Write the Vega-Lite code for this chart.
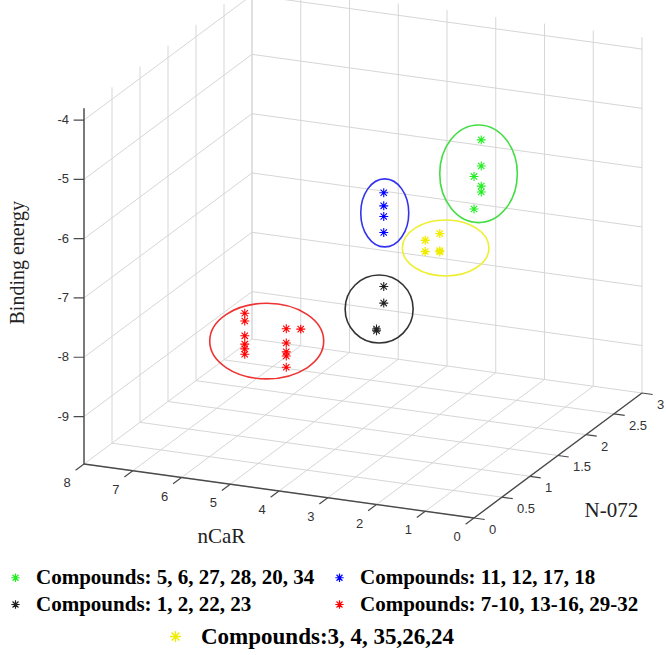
{
  "$schema": "https://vega.github.io/schema/vega-lite/v6.json",
  "width": 666,
  "height": 655,
  "padding": 0,
  "autosize": {"type": "none"},
  "background": "white",
  "config": {"view": {"stroke": null}},
  "datasets": {
    "pts": [
      {"group": "Compounds: 5, 6, 27, 28, 20, 34", "nCaR": 1, "N072": 1, "energy": -4.24},
      {"group": "Compounds: 5, 6, 27, 28, 20, 34", "nCaR": 1, "N072": 1, "energy": -4.68},
      {"group": "Compounds: 5, 6, 27, 28, 20, 34", "nCaR": 1, "N072": 1, "energy": -5.02},
      {"group": "Compounds: 5, 6, 27, 28, 20, 34", "nCaR": 1, "N072": 1, "energy": -5.12},
      {"group": "Compounds: 5, 6, 27, 28, 20, 34", "nCaR": 0, "N072": 0, "energy": -4.04},
      {"group": "Compounds: 5, 6, 27, 28, 20, 34", "nCaR": 0, "N072": 0, "energy": -4.59},
      {"group": "Compounds: 11, 12, 17, 18", "nCaR": 3, "N072": 1, "energy": -5.36},
      {"group": "Compounds: 11, 12, 17, 18", "nCaR": 3, "N072": 1, "energy": -5.58},
      {"group": "Compounds: 11, 12, 17, 18", "nCaR": 3, "N072": 1, "energy": -5.76},
      {"group": "Compounds: 11, 12, 17, 18", "nCaR": 3, "N072": 1, "energy": -6.03},
      {"group": "Compounds: 1, 2, 22, 23", "nCaR": 3, "N072": 1, "energy": -6.94},
      {"group": "Compounds: 1, 2, 22, 23", "nCaR": 3, "N072": 1, "energy": -7.22},
      {"group": "Compounds: 1, 2, 22, 23", "nCaR": 2, "N072": 0, "energy": -6.84},
      {"group": "Compounds: 1, 2, 22, 23", "nCaR": 2, "N072": 0, "energy": -6.87},
      {"group": "Compounds: 7-10, 13-16, 29-32", "nCaR": 7, "N072": 2, "energy": -8.55},
      {"group": "Compounds: 7-10, 13-16, 29-32", "nCaR": 7, "N072": 2, "energy": -8.68},
      {"group": "Compounds: 7-10, 13-16, 29-32", "nCaR": 7, "N072": 2, "energy": -8.93},
      {"group": "Compounds: 7-10, 13-16, 29-32", "nCaR": 7, "N072": 2, "energy": -9.07},
      {"group": "Compounds: 7-10, 13-16, 29-32", "nCaR": 7, "N072": 2, "energy": -9.15},
      {"group": "Compounds: 7-10, 13-16, 29-32", "nCaR": 7, "N072": 2, "energy": -9.24},
      {"group": "Compounds: 7-10, 13-16, 29-32", "nCaR": 5, "N072": 1, "energy": -7.88},
      {"group": "Compounds: 7-10, 13-16, 29-32", "nCaR": 5, "N072": 1, "energy": -8.12},
      {"group": "Compounds: 7-10, 13-16, 29-32", "nCaR": 5, "N072": 1, "energy": -8.27},
      {"group": "Compounds: 7-10, 13-16, 29-32", "nCaR": 5, "N072": 1, "energy": -8.34},
      {"group": "Compounds: 7-10, 13-16, 29-32", "nCaR": 5, "N072": 1, "energy": -8.53},
      {"group": "Compounds: 7-10, 13-16, 29-32", "nCaR": 7, "N072": 3, "energy": -9.52},
      {"group": "Compounds:3, 4, 35,26,24", "nCaR": 1, "N072": 0, "energy": -5.23},
      {"group": "Compounds:3, 4, 35,26,24", "nCaR": 1, "N072": 0, "energy": -5.42},
      {"group": "Compounds:3, 4, 35,26,24", "nCaR": 3, "N072": 2, "energy": -6.75},
      {"group": "Compounds:3, 4, 35,26,24", "nCaR": 3, "N072": 2, "energy": -7.04},
      {"group": "Compounds:3, 4, 35,26,24", "nCaR": 3, "N072": 2, "energy": -7.06}
    ],
    "nt": [{"v": 0}, {"v": 1}, {"v": 2}, {"v": 3}, {"v": 4}, {"v": 5}, {"v": 6}, {"v": 7}, {"v": 8}],
    "mt": [{"v": 0}, {"v": 0.5}, {"v": 1}, {"v": 1.5}, {"v": 2}, {"v": 2.5}, {"v": 3}],
    "et": [{"v": -9}, {"v": -8}, {"v": -7}, {"v": -6}, {"v": -5}, {"v": -4}],
    "axes": [
      {"n1": 0, "m1": 0, "e1": -9.8, "n2": 8, "m2": 0, "e2": -9.8},
      {"n1": 0, "m1": 0, "e1": -9.8, "n2": 0, "m2": 3, "e2": -9.8},
      {"n1": 8, "m1": 0, "e1": -9.8, "n2": 8, "m2": 0, "e2": -3.8}
    ]
  },
  "encoding": {
    "x": {"field": "x1", "type": "quantitative", "scale": {"domain": [-474, 192], "nice": false, "zero": false}, "axis": null},
    "y": {"field": "y1", "type": "quantitative", "scale": {"domain": [-137, 518], "nice": false, "zero": false}, "axis": null}
  },
  "layer": [
    {
      "data": {"name": "nt"},
      "transform": [
        {"calculate": "datum.v", "as": "n1"}, {"calculate": "0", "as": "m1"}, {"calculate": "-9.8", "as": "e1"},
        {"calculate": "datum.v", "as": "n2"}, {"calculate": "3", "as": "m2"}, {"calculate": "-9.8", "as": "e2"},
        {"calculate": "-48.75*datum.n1+56*datum.m1", "as": "x1"},
        {"calculate": "6.75*datum.n1+41.67*datum.m1+59.3*(datum.e1+9.8)", "as": "y1"},
        {"calculate": "-48.75*datum.n2+56*datum.m2", "as": "x2"},
        {"calculate": "6.75*datum.n2+41.67*datum.m2+59.3*(datum.e2+9.8)", "as": "y2"}
      ],
      "mark": {"type": "rule", "color": "#d6d6d6", "strokeWidth": 1},
      "encoding": {"x2": {"field": "x2"}, "y2": {"field": "y2"}}
    },
    {
      "data": {"name": "nt"},
      "transform": [
        {"calculate": "datum.v", "as": "n1"}, {"calculate": "3", "as": "m1"}, {"calculate": "-9.8", "as": "e1"},
        {"calculate": "datum.v", "as": "n2"}, {"calculate": "3", "as": "m2"}, {"calculate": "-3.8", "as": "e2"},
        {"calculate": "-48.75*datum.n1+56*datum.m1", "as": "x1"},
        {"calculate": "6.75*datum.n1+41.67*datum.m1+59.3*(datum.e1+9.8)", "as": "y1"},
        {"calculate": "-48.75*datum.n2+56*datum.m2", "as": "x2"},
        {"calculate": "6.75*datum.n2+41.67*datum.m2+59.3*(datum.e2+9.8)", "as": "y2"}
      ],
      "mark": {"type": "rule", "color": "#d6d6d6", "strokeWidth": 1},
      "encoding": {"x2": {"field": "x2"}, "y2": {"field": "y2"}}
    },
    {
      "data": {"name": "mt"},
      "transform": [
        {"calculate": "0", "as": "n1"}, {"calculate": "datum.v", "as": "m1"}, {"calculate": "-9.8", "as": "e1"},
        {"calculate": "8", "as": "n2"}, {"calculate": "datum.v", "as": "m2"}, {"calculate": "-9.8", "as": "e2"},
        {"calculate": "-48.75*datum.n1+56*datum.m1", "as": "x1"},
        {"calculate": "6.75*datum.n1+41.67*datum.m1+59.3*(datum.e1+9.8)", "as": "y1"},
        {"calculate": "-48.75*datum.n2+56*datum.m2", "as": "x2"},
        {"calculate": "6.75*datum.n2+41.67*datum.m2+59.3*(datum.e2+9.8)", "as": "y2"}
      ],
      "mark": {"type": "rule", "color": "#d6d6d6", "strokeWidth": 1},
      "encoding": {"x2": {"field": "x2"}, "y2": {"field": "y2"}}
    },
    {
      "data": {"name": "mt"},
      "transform": [
        {"calculate": "8", "as": "n1"}, {"calculate": "datum.v", "as": "m1"}, {"calculate": "-9.8", "as": "e1"},
        {"calculate": "8", "as": "n2"}, {"calculate": "datum.v", "as": "m2"}, {"calculate": "-3.8", "as": "e2"},
        {"calculate": "-48.75*datum.n1+56*datum.m1", "as": "x1"},
        {"calculate": "6.75*datum.n1+41.67*datum.m1+59.3*(datum.e1+9.8)", "as": "y1"},
        {"calculate": "-48.75*datum.n2+56*datum.m2", "as": "x2"},
        {"calculate": "6.75*datum.n2+41.67*datum.m2+59.3*(datum.e2+9.8)", "as": "y2"}
      ],
      "mark": {"type": "rule", "color": "#d6d6d6", "strokeWidth": 1},
      "encoding": {"x2": {"field": "x2"}, "y2": {"field": "y2"}}
    },
    {
      "data": {"name": "et"},
      "transform": [
        {"calculate": "0", "as": "n1"}, {"calculate": "3", "as": "m1"}, {"calculate": "datum.v", "as": "e1"},
        {"calculate": "8", "as": "n2"}, {"calculate": "3", "as": "m2"}, {"calculate": "datum.v", "as": "e2"},
        {"calculate": "-48.75*datum.n1+56*datum.m1", "as": "x1"},
        {"calculate": "6.75*datum.n1+41.67*datum.m1+59.3*(datum.e1+9.8)", "as": "y1"},
        {"calculate": "-48.75*datum.n2+56*datum.m2", "as": "x2"},
        {"calculate": "6.75*datum.n2+41.67*datum.m2+59.3*(datum.e2+9.8)", "as": "y2"}
      ],
      "mark": {"type": "rule", "color": "#d6d6d6", "strokeWidth": 1},
      "encoding": {"x2": {"field": "x2"}, "y2": {"field": "y2"}}
    },
    {
      "data": {"name": "et"},
      "transform": [
        {"calculate": "8", "as": "n1"}, {"calculate": "0", "as": "m1"}, {"calculate": "datum.v", "as": "e1"},
        {"calculate": "8", "as": "n2"}, {"calculate": "3", "as": "m2"}, {"calculate": "datum.v", "as": "e2"},
        {"calculate": "-48.75*datum.n1+56*datum.m1", "as": "x1"},
        {"calculate": "6.75*datum.n1+41.67*datum.m1+59.3*(datum.e1+9.8)", "as": "y1"},
        {"calculate": "-48.75*datum.n2+56*datum.m2", "as": "x2"},
        {"calculate": "6.75*datum.n2+41.67*datum.m2+59.3*(datum.e2+9.8)", "as": "y2"}
      ],
      "mark": {"type": "rule", "color": "#d6d6d6", "strokeWidth": 1},
      "encoding": {"x2": {"field": "x2"}, "y2": {"field": "y2"}}
    },
    {
      "data": {"name": "axes"},
      "transform": [
        {"calculate": "-48.75*datum.n1+56*datum.m1", "as": "x1"},
        {"calculate": "6.75*datum.n1+41.67*datum.m1+59.3*(datum.e1+9.8)", "as": "y1"},
        {"calculate": "-48.75*datum.n2+56*datum.m2", "as": "x2"},
        {"calculate": "6.75*datum.n2+41.67*datum.m2+59.3*(datum.e2+9.8)", "as": "y2"}
      ],
      "mark": {"type": "rule", "color": "#4a4a4a", "strokeWidth": 1.4},
      "encoding": {"x2": {"field": "x2"}, "y2": {"field": "y2"}}
    },
    {
      "data": {"name": "nt"},
      "transform": [
        {"calculate": "datum.v", "as": "n1"}, {"calculate": "0", "as": "m1"}, {"calculate": "-9.8", "as": "e1"},
        {"calculate": "datum.v", "as": "n2"}, {"calculate": "-0.15", "as": "m2"}, {"calculate": "-9.8", "as": "e2"},
        {"calculate": "-48.75*datum.n1+56*datum.m1", "as": "x1"},
        {"calculate": "6.75*datum.n1+41.67*datum.m1+59.3*(datum.e1+9.8)", "as": "y1"},
        {"calculate": "-48.75*datum.n2+56*datum.m2", "as": "x2"},
        {"calculate": "6.75*datum.n2+41.67*datum.m2+59.3*(datum.e2+9.8)", "as": "y2"}
      ],
      "mark": {"type": "rule", "color": "#4a4a4a", "strokeWidth": 1.2},
      "encoding": {"x2": {"field": "x2"}, "y2": {"field": "y2"}}
    },
    {
      "data": {"name": "mt"},
      "transform": [
        {"calculate": "0", "as": "n1"}, {"calculate": "datum.v", "as": "m1"}, {"calculate": "-9.8", "as": "e1"},
        {"calculate": "-0.22", "as": "n2"}, {"calculate": "datum.v", "as": "m2"}, {"calculate": "-9.8", "as": "e2"},
        {"calculate": "-48.75*datum.n1+56*datum.m1", "as": "x1"},
        {"calculate": "6.75*datum.n1+41.67*datum.m1+59.3*(datum.e1+9.8)", "as": "y1"},
        {"calculate": "-48.75*datum.n2+56*datum.m2", "as": "x2"},
        {"calculate": "6.75*datum.n2+41.67*datum.m2+59.3*(datum.e2+9.8)", "as": "y2"}
      ],
      "mark": {"type": "rule", "color": "#4a4a4a", "strokeWidth": 1.2},
      "encoding": {"x2": {"field": "x2"}, "y2": {"field": "y2"}}
    },
    {
      "data": {"name": "et"},
      "transform": [
        {"calculate": "8", "as": "n1"}, {"calculate": "0", "as": "m1"}, {"calculate": "datum.v", "as": "e1"},
        {"calculate": "8.18", "as": "n2"}, {"calculate": "-0.029", "as": "m2"}, {"calculate": "datum.v", "as": "e2"},
        {"calculate": "-48.75*datum.n1+56*datum.m1", "as": "x1"},
        {"calculate": "6.75*datum.n1+41.67*datum.m1+59.3*(datum.e1+9.8)", "as": "y1"},
        {"calculate": "-48.75*datum.n2+56*datum.m2", "as": "x2"},
        {"calculate": "6.75*datum.n2+41.67*datum.m2+59.3*(datum.e2+9.8)", "as": "y2"}
      ],
      "mark": {"type": "rule", "color": "#4a4a4a", "strokeWidth": 1.2},
      "encoding": {"x2": {"field": "x2"}, "y2": {"field": "y2"}}
    },
    {
      "data": {"name": "et"},
      "transform": [
        {"calculate": "-48.75*8", "as": "x1"},
        {"calculate": "6.75*8+59.3*(datum.v+9.8)", "as": "y1"}
      ],
      "mark": {"type": "text", "align": "right", "baseline": "middle", "dx": -15, "font": "Liberation Sans", "fontSize": 13, "color": "#333333"},
      "encoding": {"text": {"field": "v", "type": "nominal"}}
    },
    {
      "data": {"name": "nt"},
      "transform": [
        {"calculate": "-48.75*datum.v", "as": "x1"},
        {"calculate": "6.75*datum.v", "as": "y1"}
      ],
      "mark": {"type": "text", "align": "center", "baseline": "middle", "dx": -17, "dy": 19, "font": "Liberation Sans", "fontSize": 13, "color": "#333333"},
      "encoding": {"text": {"field": "v", "type": "nominal"}}
    },
    {
      "data": {"name": "mt"},
      "transform": [
        {"calculate": "56*datum.v", "as": "x1"},
        {"calculate": "41.67*datum.v", "as": "y1"}
      ],
      "mark": {"type": "text", "align": "left", "baseline": "middle", "dx": 15, "dy": 12, "font": "Liberation Sans", "fontSize": 13, "color": "#333333"},
      "encoding": {"text": {"field": "v", "type": "nominal"}}
    },
    {
      "data": {"values": [{"t": "nCaR"}]},
      "transform": [
        {"calculate": "-48.75*3.93+56*(-1.09)", "as": "x1"},
        {"calculate": "6.75*3.93+41.67*(-1.09)", "as": "y1"}
      ],
      "mark": {"type": "text", "align": "center", "baseline": "middle", "font": "Liberation Serif", "fontSize": 21, "color": "#222222"},
      "encoding": {"text": {"field": "t", "type": "nominal"}}
    },
    {
      "data": {"values": [{"t": "N-072"}]},
      "transform": [
        {"calculate": "-48.75*(-2.21)+56*0.53", "as": "x1"},
        {"calculate": "6.75*(-2.21)+41.67*0.53", "as": "y1"}
      ],
      "mark": {"type": "text", "align": "center", "baseline": "middle", "font": "Liberation Serif", "fontSize": 21, "color": "#222222"},
      "encoding": {"text": {"field": "t", "type": "nominal"}}
    },
    {
      "data": {"values": [{"t": "Binding energy"}]},
      "transform": [
        {"calculate": "-48.75*9.35", "as": "x1"},
        {"calculate": "6.75*9.35+59.3*(-6.56+9.8)", "as": "y1"}
      ],
      "mark": {"type": "text", "align": "center", "baseline": "middle", "angle": 270, "font": "Liberation Serif", "fontSize": 20, "color": "#222222"},
      "encoding": {"text": {"field": "t", "type": "nominal"}}
    },
    {
      "data": {"name": "pts"},
      "transform": [
        {"calculate": "-48.75*datum.nCaR+56*datum.N072", "as": "x1"},
        {"calculate": "6.75*datum.nCaR+41.67*datum.N072+59.3*(datum.energy+9.8)", "as": "y1"}
      ],
      "mark": {"type": "point", "filled": false, "size": 4, "strokeWidth": 1.6, "opacity": 1},
      "encoding": {
        "x": {"field": "x1", "aggregate": "mean", "type": "quantitative", "scale": {"domain": [-474, 192], "nice": false, "zero": false}, "axis": null},
        "y": {"field": "y1", "aggregate": "mean", "type": "quantitative", "scale": {"domain": [-137, 518], "nice": false, "zero": false}, "axis": null},
        "color": {"field": "group", "type": "nominal", "legend": null,
          "scale": {"domain": ["Compounds: 5, 6, 27, 28, 20, 34", "Compounds: 11, 12, 17, 18", "Compounds: 1, 2, 22, 23", "Compounds: 7-10, 13-16, 29-32", "Compounds:3, 4, 35,26,24"],
                    "range": ["#44dd44", "#3333ee", "#333333", "#ee3333", "#eeee33"]}},
        "shape": {"field": "group", "type": "nominal", "legend": null,
          "scale": {"domain": ["Compounds: 5, 6, 27, 28, 20, 34", "Compounds: 11, 12, 17, 18", "Compounds: 1, 2, 22, 23", "Compounds: 7-10, 13-16, 29-32", "Compounds:3, 4, 35,26,24"],
                    "range": [
                      "M38.5,-4.4 C38.5,22.55 21.13,44.4 -0.3,44.4 C-21.73,44.4 -39.1,22.55 -39.1,-4.4 C-39.1,-31.35 -21.73,-53.2 -0.3,-53.2 C21.13,-53.2 38.5,-31.35 38.5,-4.4Z",
                      "M25,1 C25,19.78 14.26,35 1,35 C-12.26,35 -23,19.78 -23,1 C-23,-17.78 -12.26,-33 1,-33 C14.26,-33 25,-17.78 25,1Z",
                      "M33,-3.3 C33,15.48 17.78,30.7 -1,30.7 C-19.78,30.7 -35,15.48 -35,-3.3 C-35,-22.08 -19.78,-37.3 -1,-37.3 C17.78,-37.3 33,-22.08 33,-3.3Z",
                      "M57,0 C57,20.88 31.48,37.8 0,37.8 C-31.48,37.8 -57,20.88 -57,0 C-57,-20.88 -31.48,-37.8 0,-37.8 C31.48,-37.8 57,-20.88 57,0Z",
                      "M55,2.4 C55,17.86 35.61,30.4 11.7,30.4 C-12.21,30.4 -31.6,17.86 -31.6,2.4 C-31.6,-13.06 -12.21,-25.6 11.7,-25.6 C35.61,-25.6 55,-13.06 55,2.4Z"
                    ]}}
      }
    },
    {
      "data": {"name": "pts"},
      "transform": [
        {"filter": "datum.group !== 'Compounds:3, 4, 35,26,24'"},
        {"calculate": "-48.75*datum.nCaR+56*datum.N072", "as": "x1"},
        {"calculate": "6.75*datum.nCaR+41.67*datum.N072+59.3*(datum.energy+9.8)", "as": "y1"}
      ],
      "mark": {"type": "point", "filled": false, "size": 80, "strokeWidth": 1.1, "opacity": 1,
               "shape": "M-1,0L1,0M0,-1L0,1M-0.71,-0.71L0.71,0.71M-0.71,0.71L0.71,-0.71"},
      "encoding": {
        "color": {"field": "group", "type": "nominal",
          "scale": {"domain": ["Compounds: 5, 6, 27, 28, 20, 34", "Compounds: 1, 2, 22, 23", "Compounds: 11, 12, 17, 18", "Compounds: 7-10, 13-16, 29-32"],
                    "range": ["#22ee22", "#222222", "#0000ff", "#ff0000"]},
          "legend": {"orient": "none", "legendX": 5, "legendY": 567, "columns": 2, "title": null, "padding": 0,
                     "labelFont": "Liberation Serif", "labelFontWeight": "bold", "labelFontSize": 21, "labelColor": "#000000", "labelLimit": 500,
                     "symbolType": "M-1,0L1,0M0,-1L0,1M-0.71,-0.71L0.71,0.71M-0.71,0.71L0.71,-0.71",
                     "symbolSize": 70, "symbolStrokeWidth": 1.2, "labelOffset": 10, "columnPadding": 14, "rowPadding": 5}}
      }
    },
    {
      "data": {"name": "pts"},
      "transform": [
        {"filter": "datum.group === 'Compounds:3, 4, 35,26,24'"},
        {"calculate": "-48.75*datum.nCaR+56*datum.N072", "as": "x1"},
        {"calculate": "6.75*datum.nCaR+41.67*datum.N072+59.3*(datum.energy+9.8)", "as": "y1"}
      ],
      "mark": {"type": "point", "filled": false, "size": 80, "strokeWidth": 1.3, "opacity": 1,
               "shape": "M-1,0L1,0M0,-1L0,1M-0.71,-0.71L0.71,0.71M-0.71,0.71L0.71,-0.71"},
      "encoding": {
        "color": {"field": "group", "type": "nominal",
          "scale": {"domain": ["Compounds:3, 4, 35,26,24"], "range": ["#f0ec00"]},
          "legend": {"orient": "none", "legendX": 164, "legendY": 625, "title": null, "padding": 0,
                     "labelFont": "Liberation Serif", "labelFontWeight": "bold", "labelFontSize": 23, "labelColor": "#000000", "labelLimit": 500,
                     "symbolType": "M-1,0L1,0M0,-1L0,1M-0.71,-0.71L0.71,0.71M-0.71,0.71L0.71,-0.71",
                     "symbolSize": 120, "symbolStrokeWidth": 1.4, "labelOffset": 14}}
      }
    }
  ],
  "resolve": {"scale": {"color": "independent", "shape": "independent"}, "legend": {"color": "independent"}}
}
